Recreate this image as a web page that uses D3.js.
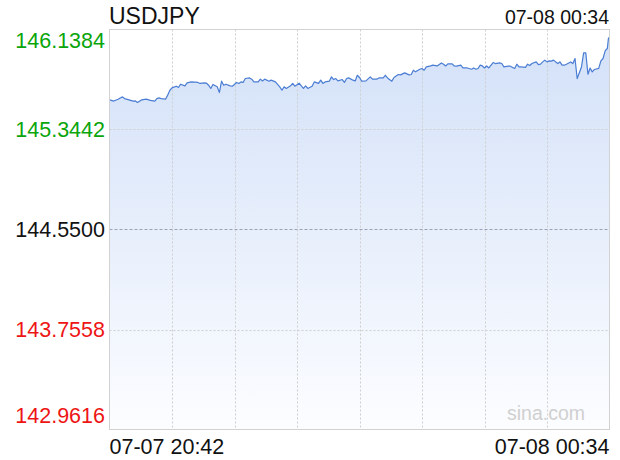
<!DOCTYPE html>
<html>
<head>
<meta charset="utf-8">
<script src="https://cdn.jsdelivr.net/npm/d3@7"></script>
<style>
  body { margin: 0; background: #fff; }
  text { font-family: "Liberation Sans", Arial, Helvetica, sans-serif; }
</style>
</head>
<body>
<svg id="chart" width="620" height="460"></svg>
<script>
var symbol = "USDJPY";
var startLabel = "07-07 20:42";
var endLabel = "07-08 00:34";
var totalMinutes = 232;

// minutes since 07-07 20:42
var offsets = [0, 2, 4, 5, 6, 7, 9, 11, 12, 13, 15, 17, 19, 21, 22, 23, 24, 26, 27, 28,
  29, 31, 32, 33, 35, 36, 38, 41, 42, 44, 45, 46, 47, 48, 50, 51, 52, 53, 54, 56,
  57, 59, 60, 61, 62, 63, 65, 66, 67, 69, 70, 71, 72, 74, 75, 77, 79, 80, 81, 82,
  84, 85, 86, 88, 89, 90, 91, 92, 94, 95, 97, 98, 99, 100, 102, 103, 104, 105, 106, 108,
  109, 110, 111, 113, 114, 115, 116, 117, 119, 121, 122, 124, 125, 127, 128, 129, 131, 132, 134, 135,
  137, 139, 140, 141, 142, 144, 145, 146, 147, 149, 150, 152, 154, 155, 156, 157, 159, 160, 161, 163,
  164, 166, 168, 169, 170, 171, 172, 173, 174, 175, 176, 178, 179, 181, 182, 183, 185, 186, 188, 189,
  190, 191, 193, 194, 195, 196, 198, 199, 200, 201, 202, 203, 204, 205, 206, 208, 209, 210, 211, 212,
  214, 215, 216, 217, 219, 220, 221, 222, 223, 224, 225, 227, 228, 229, 230, 230.5, 231, 231.5, 232];

var prices = [145.580, 145.570, 145.585, 145.595, 145.603, 145.590, 145.580, 145.570, 145.571, 145.559,
  145.580, 145.585, 145.575, 145.570, 145.590, 145.595, 145.590, 145.585, 145.617, 145.656,
  145.675, 145.688, 145.678, 145.704, 145.691, 145.714, 145.722, 145.718, 145.710, 145.714,
  145.712, 145.696, 145.670, 145.702, 145.683, 145.638, 145.728, 145.696, 145.704, 145.691,
  145.688, 145.718, 145.710, 145.722, 145.718, 145.749, 145.754, 145.744, 145.722, 145.722,
  145.744, 145.730, 145.744, 145.728, 145.736, 145.722, 145.683, 145.656, 145.683, 145.670,
  145.691, 145.710, 145.688, 145.712, 145.691, 145.670, 145.690, 145.670, 145.688, 145.722,
  145.710, 145.736, 145.710, 145.722, 145.728, 145.762, 145.741, 145.749, 145.730, 145.741,
  145.718, 145.749, 145.754, 145.736, 145.730, 145.775, 145.757, 145.728, 145.730, 145.762,
  145.744, 145.744, 145.754, 145.754, 145.775, 145.754, 145.728, 145.757, 145.781, 145.778,
  145.794, 145.778, 145.781, 145.815, 145.802, 145.823, 145.829, 145.815, 145.841, 145.849,
  145.855, 145.849, 145.873, 145.863, 145.849, 145.865, 145.865, 145.849, 145.847, 145.855,
  145.833, 145.833, 145.823, 145.833, 145.823, 145.829, 145.855, 145.849, 145.833, 145.849,
  145.833, 145.876, 145.868, 145.873, 145.868, 145.841, 145.847, 145.847, 145.829, 145.863,
  145.841, 145.841, 145.837, 145.863, 145.852, 145.868, 145.881, 145.860, 145.863, 145.881,
  145.895, 145.881, 145.889, 145.887, 145.895, 145.868, 145.881, 145.855, 145.855, 145.863,
  145.881, 145.868, 145.908, 145.749, 145.841, 145.953, 145.953, 145.783, 145.833, 145.802,
  145.821, 145.829, 145.889, 145.908, 145.968, 145.980, 145.988, 146.067, 146.078];

var yTicks = [146.1384, 145.3442, 144.5500, 143.7558, 142.9616];
var tickColors = ["#0aa50a", "#0aa50a", "#111111", "#ee1515", "#ee1515"];
var prevClose = 144.55;

var svg = d3.select("#chart");
var plotLeft = 109.5, plotRight = 609.5, plotTop = 29.5, plotBottom = 429.5;

var x = d3.scaleLinear().domain([0, totalMinutes]).range([plotLeft, plotRight]);
var y = d3.scaleLinear().domain([yTicks[4], yTicks[0]]).range([plotBottom, plotTop]);

var data = offsets.map(function(m, i) { return { m: m, v: prices[i] }; });

var grad = svg.append("defs").append("linearGradient")
    .attr("id", "fill")
    .attr("gradientUnits", "userSpaceOnUse")
    .attr("x1", 0).attr("x2", 0)
    .attr("y1", plotTop + 10).attr("y2", plotBottom);
grad.append("stop").attr("offset", "0%").attr("stop-color", "#d3e1f8");
grad.append("stop").attr("offset", "100%").attr("stop-color", "#fcfdff");

var area = d3.area()
    .x(function(d) { return x(d.m); })
    .y0(plotBottom)
    .y1(function(d) { return y(d.v); });

svg.append("path")
    .datum(data)
    .attr("d", area)
    .attr("fill", "url(#fill)");

// vertical grid
var vLines = d3.range(1, 8).map(function(i) { return i * totalMinutes / 8; });
svg.append("g").selectAll("line")
    .data(vLines)
    .enter().append("line")
    .attr("x1", function(d) { return Math.round(x(d)) + 0.5; })
    .attr("x2", function(d) { return Math.round(x(d)) + 0.5; })
    .attr("y1", plotTop).attr("y2", plotBottom)
    .attr("stroke", "#cfcfcf")
    .attr("stroke-dasharray", "2,2");

// horizontal grid
svg.append("g").selectAll("line")
    .data([yTicks[1], yTicks[3]])
    .enter().append("line")
    .attr("x1", plotLeft).attr("x2", plotRight)
    .attr("y1", function(d) { return Math.round(y(d)) + 0.5; })
    .attr("y2", function(d) { return Math.round(y(d)) + 0.5; })
    .attr("stroke", "#cfcfcf")
    .attr("stroke-dasharray", "2,2");

svg.append("line")
    .attr("x1", plotLeft).attr("x2", plotRight)
    .attr("y1", Math.round(y(prevClose)) + 0.5)
    .attr("y2", Math.round(y(prevClose)) + 0.5)
    .attr("stroke", "#9da2b6")
    .attr("stroke-dasharray", "3,2");

var line = d3.line()
    .x(function(d) { return x(d.m); })
    .y(function(d) { return y(d.v); });

svg.append("path")
    .datum(data)
    .attr("d", line)
    .attr("fill", "none")
    .attr("stroke", "#4a7dd3")
    .attr("stroke-width", 1.2)
    .attr("stroke-linejoin", "round");

// frame
svg.append("rect")
    .attr("x", plotLeft).attr("y", plotTop)
    .attr("width", plotRight - plotLeft).attr("height", plotBottom - plotTop)
    .attr("fill", "none")
    .attr("stroke", "#d2d2d2");

// y labels
svg.append("g").selectAll("text")
    .data(yTicks)
    .enter().append("text")
    .attr("x", 105)
    .attr("y", function(d, i) {
        if (i === 0) return plotTop + 18;
        if (i === yTicks.length - 1) return plotBottom - 6.5;
        return y(d) + 7.5;
    })
    .attr("text-anchor", "end")
    .attr("font-size", 21.5)
    .attr("fill", function(d, i) { return tickColors[i]; })
    .text(function(d) { return d.toFixed(4); });

svg.append("text")
    .attr("x", 109).attr("y", 24)
    .attr("font-size", 23)
    .attr("fill", "#111")
    .text(symbol);

svg.append("text")
    .attr("x", 609).attr("y", 23.5)
    .attr("text-anchor", "end")
    .attr("font-size", 19.5)
    .attr("fill", "#111")
    .text(endLabel);

svg.append("text")
    .attr("x", x(0)).attr("y", 454)
    .attr("font-size", 21.5)
    .attr("fill", "#111")
    .text(startLabel);

svg.append("text")
    .attr("x", x(totalMinutes)).attr("y", 454)
    .attr("text-anchor", "end")
    .attr("font-size", 21.5)
    .attr("fill", "#111")
    .text(endLabel);

svg.append("text")
    .attr("x", 585).attr("y", 420)
    .attr("text-anchor", "end")
    .attr("font-size", 19.5)
    .attr("fill", "#d0d0d0")
    .text("sina.com");
</script>
</body>
</html>
